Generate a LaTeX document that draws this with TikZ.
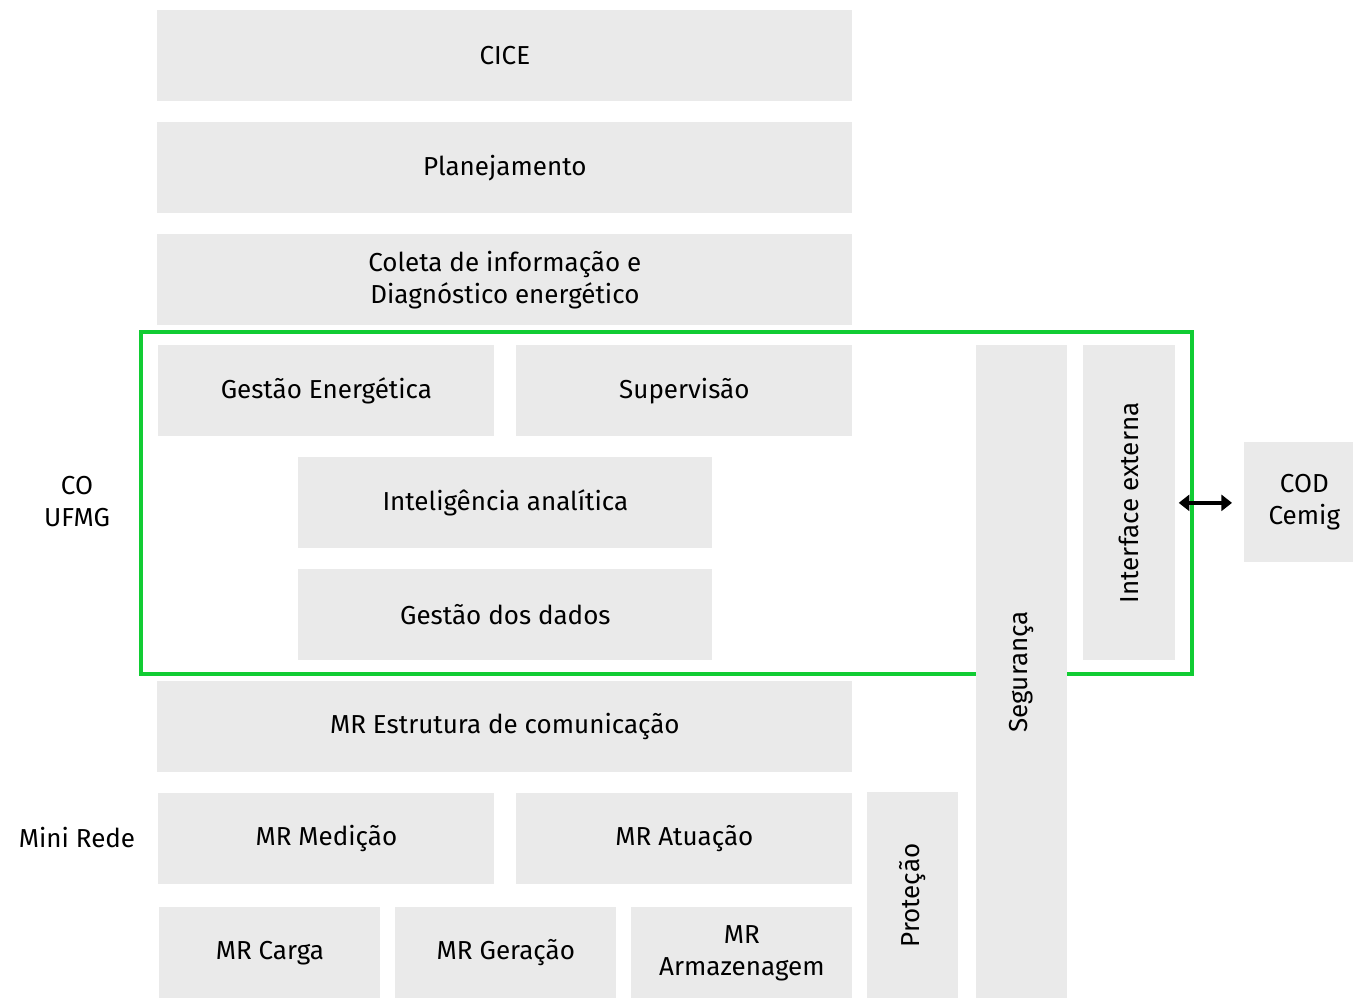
\documentclass[tikz,border=0pt]{standalone}
\usepackage{fontspec}
\setmainfont{Fira Sans}
\usepackage{tikz}
\usetikzlibrary{arrows.meta}

\definecolor{boxgray}{HTML}{EAEAEA}
\definecolor{cogreen}{HTML}{11CC33}

\begin{document}
\begin{tikzpicture}[
        box/.style={fill=boxgray, anchor=north west, inner sep=0pt, align=center,
            font=\fontsize{14.8}{18.2}\selectfont},
        wide/.style={box, minimum width=13.9cm, minimum height=1.82cm},
        half/.style={box, minimum width=6.72cm, minimum height=1.82cm},
        third/.style={box, minimum width=4.42cm, minimum height=1.82cm},
        label/.style={align=center, font=\fontsize{14.8}{18.2}\selectfont}
    ]
            \useasboundingbox (0,0) rectangle (27.06,-19.96);
            \clip (0,0) rectangle (27.06,-19.96);

            % upper layers
            \node[wide] (cice) at (3.14,-0.2) {CICE};
            \node[wide] (plan) at (3.14,-2.44) {Planejamento};
            \node[wide] (coleta) at (3.14,-4.68) {Coleta de informação e\\Diagnóstico energético};

            % CO UFMG frame
            \draw[cogreen, line width=2.3pt] (2.82,-6.64) rectangle (23.84,-13.48);

            \node[half] (gestaoE) at (3.16,-6.9) {Gestão Energética};
            \node[half] (superv) at (10.32,-6.9) {Supervisão};
            \node[box, minimum width=8.28cm, minimum height=1.82cm] (intel) at (5.96,-9.14) {Inteligência analítica};
            \node[box, minimum width=8.28cm, minimum height=1.82cm] (dados) at (5.96,-11.38) {Gestão dos dados};

            \node[box, minimum width=1.82cm, minimum height=13.06cm] (seg) at (19.52,-6.9) {};
            \node[rotate=90, label] (segtxt) at (seg.center) {Segurança};
            \node[box, minimum width=1.84cm, minimum height=6.3cm] (iface) at (21.66,-6.9) {};
            \node[rotate=90, label] (ifacetxt) at (iface.center) {Interface externa};

            \node[box, minimum width=2.4cm, minimum height=2.4cm] (cod) at (24.88,-8.84) {COD\\Cemig};
            \draw[{Triangle[width=9pt,length=6pt]}-{Triangle[width=9pt,length=6pt]}, line width=2pt,
                shorten <=0.06cm, shorten >=0.24cm] (iface.east) -- (iface.east -| cod.west);

            % mini rede
            \node[wide] (estr) at (3.14,-13.62) {MR Estrutura de comunicação};
            \node[half] (medic) at (3.16,-15.86) {MR Medição};
            \node[half] (atua) at (10.32,-15.86) {MR Atuação};
            \node[box, minimum width=1.82cm, minimum height=4.12cm] (prot) at (17.34,-15.84) {};
            \node[rotate=90, label] (prottxt) at (prot.center) {Proteção};

            \node[third] (carga) at (3.18,-18.14) {MR Carga};
            \node[third] (gerac) at (7.9,-18.14) {MR Geração};
            \node[third] (armaz) at (12.62,-18.14) {MR\\Armazenagem};

            \node[label] (co) at (1.54,-10.04) {CO\\UFMG};
            \node[label] (mini) at (1.54,-16.74) {Mini Rede};
        \end{tikzpicture}
\end{document}
